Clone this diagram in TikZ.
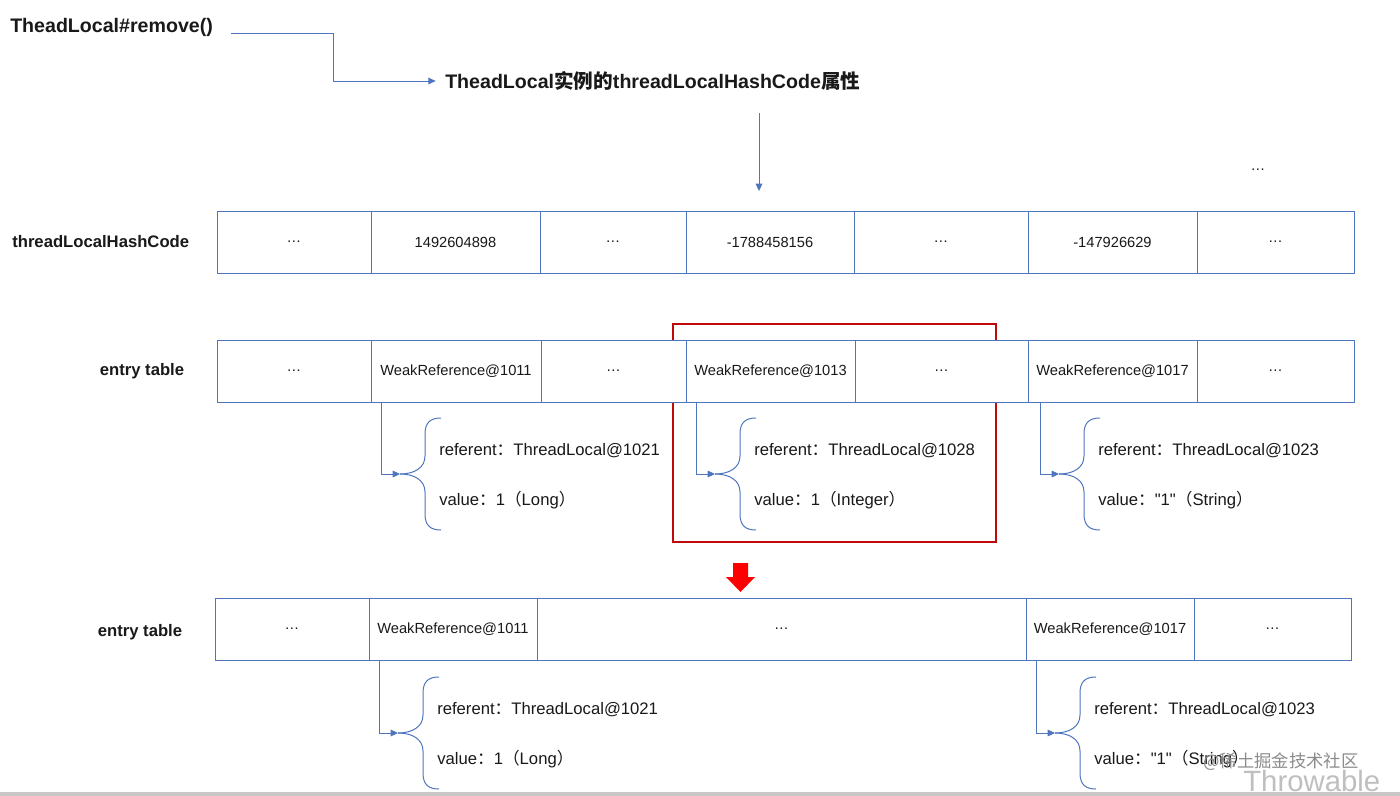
\documentclass[tikz,border=0pt]{standalone}
\usepackage{fontspec}
\setmainfont{Liberation Sans}
\newfontfamily\plainfont{Liberation Sans}
\newfontfamily\cjk{Noto Sans CJK SC}
\usetikzlibrary{arrows.meta,fit}
\definecolor{lineblue}{RGB}{78,118,190}
\definecolor{txt}{RGB}{25,25,25}
\definecolor{hl}{RGB}{190,10,10}

\newcommand\tcell[6]{\node[cell, minimum width={(#3-#2)*0.75pt}, minimum height={(#5-#4)*0.75pt}]
  (#1) at ({(#2+#3)/2},{(#4+#5)/2}) {#6};}
\newcommand\refgrp[6]{%
  \coordinate (#4top) at (#2,0);
  \coordinate (#4tip) at (#2+19,#3);
  \draw[conn] (#1.south -| #4top) |- (#4tip);
  \draw[bracel] (#4tip) .. controls (#2+33,#3) and (#2+44,#3-6) .. (#2+44,#3-18)
     -- (#2+44,#3-40) .. controls (#2+44,#3-52) and (#2+50,#3-56) .. (#2+60,#3-56);
  \draw[bracel] (#4tip) .. controls (#2+33,#3) and (#2+44,#3+6) .. (#2+44,#3+18)
     -- (#2+44,#3+40) .. controls (#2+44,#3+52) and (#2+50,#3+56) .. (#2+60,#3+56);
  \node[field] (#4ref) at (#2+58,#3-23) {#5};
  \node[field] (#4val) at (#2+58,#3+26) {#6};
}

\begin{document}
\begin{tikzpicture}[x=0.75pt,y=-0.75pt,
  cell/.style={draw=lineblue, line width=0.75pt, fill=white, inner sep=0pt,
    font=\fontsize{11}{13}\selectfont, text=txt},
  conn/.style={draw=lineblue, line width=0.75pt, -{Triangle[length=5.5pt,width=5pt]}},
  bracel/.style={draw=lineblue, line width=0.75pt},
  field/.style={anchor=west, inner sep=0pt, font=\fontsize{12.5}{15}\selectfont, text=txt},
  rowlabel/.style={inner sep=0pt, font=\bfseries\fontsize{12.5}{15}\selectfont, text=txt},
  head/.style={inner sep=0pt, anchor=west, font=\bfseries\fontsize{14.7}{17}\selectfont, text=txt}]
\useasboundingbox (0,0) rectangle (1400,796);
\fill[white] (0,0) rectangle (1400,796);

% headings
\node[head] (title) at (10,27) {TheadLocal\#remove()};
\node[head] (target) at (445,81) {TheadLocal{\cjk\bfseries 实例的}threadLocalHashCode{\cjk\bfseries 属性}};
\draw[conn] ([shift={(18,6)}]title.east) -- ++(102,0) |- ([xshift=-7pt]target.west);
\coordinate (arrtop) at (759,113);
\coordinate (arrbot) at (759,191);
\draw[conn] (arrtop) -- (arrbot);
\node[text=txt, font=\fontsize{11}{13}\selectfont] (moredots) at (1258,170) {…};

% hash code row
\node[rowlabel, anchor=west] (lblhash) at (12,242) {threadLocalHashCode};
\tcell{h1}{217}{371}{211}{273}{…}
\tcell{h2}{371}{540}{211}{273}{1492604898}
\tcell{h3}{540}{686}{211}{273}{…}
\tcell{h4}{686}{854}{211}{273}{-1788458156}
\tcell{h5}{854}{1028}{211}{273}{…}
\tcell{h6}{1028}{1197}{211}{273}{-147926629}
\tcell{h7}{1197}{1354}{211}{273}{…}

% highlight box (under the entry row)
\node[draw=hl, line width=2.2pt, inner sep=0pt, fit={(673,324) (996,542)}] (hlbox) {};

% entry table (before)
\node[rowlabel] (lblentry1) at (142,371) {entry table};
\tcell{e1}{217}{371}{340}{402}{…}
\tcell{e2}{371}{541}{340}{402}{WeakReference@1011}
\tcell{e3}{541}{686}{340}{402}{…}
\tcell{e4}{686}{855}{340}{402}{WeakReference@1013}
\tcell{e5}{855}{1028}{340}{402}{…}
\tcell{e6}{1028}{1197}{340}{402}{WeakReference@1017}
\tcell{e7}{1197}{1354}{340}{402}{…}

\refgrp{e2}{381}{474}{ga}{referent{\cjk ：}ThreadLocal@1021}{value{\cjk ：}1{\cjk （}Long{\cjk ）}}
\refgrp{e4}{696}{474}{gb}{referent{\cjk ：}ThreadLocal@1028}{value{\cjk ：}1{\cjk （}Integer{\cjk ）}}
\refgrp{e6}{1040}{474}{gc}{referent{\cjk ：}ThreadLocal@1023}{value{\cjk ：}{\plainfont "1"}{\cjk （}String{\cjk ）}}

% red down arrow
\fill[red] (733,563) -- (748,563) -- (748,577) -- (755,577) -- (740.5,592) -- (726,577) -- (733,577) -- cycle;

% entry table (after)
\node[rowlabel] (lblentry2) at (140,632) {entry table};
\tcell{b1}{215}{369}{598}{660}{…}
\tcell{b2}{369}{537}{598}{660}{WeakReference@1011}
\tcell{b3}{537}{1026}{598}{660}{…}
\tcell{b4}{1026}{1194}{598}{660}{WeakReference@1017}
\tcell{b5}{1194}{1351}{598}{660}{…}

\refgrp{b2}{379}{733}{gd}{referent{\cjk ：}ThreadLocal@1021}{value{\cjk ：}1{\cjk （}Long{\cjk ）}}
\refgrp{b4}{1036}{733}{ge}{referent{\cjk ：}ThreadLocal@1023}{value{\cjk ：}{\plainfont "1"}{\cjk （}String{\cjk ）}}

% watermark and bottom bar
\node[anchor=west, inner sep=0pt, text=black!25, font=\fontsize{22}{24}\selectfont] (wm2) at (1243,781) {Throwable};
\node[anchor=west, inner sep=0pt, text=black!45, font=\cjk\fontsize{13}{15}\selectfont] (wm1) at (1203,762) {@稀土掘金技术社区};
\fill[black!22] (0,792) rectangle (1400,796);
\end{tikzpicture}
\end{document}
